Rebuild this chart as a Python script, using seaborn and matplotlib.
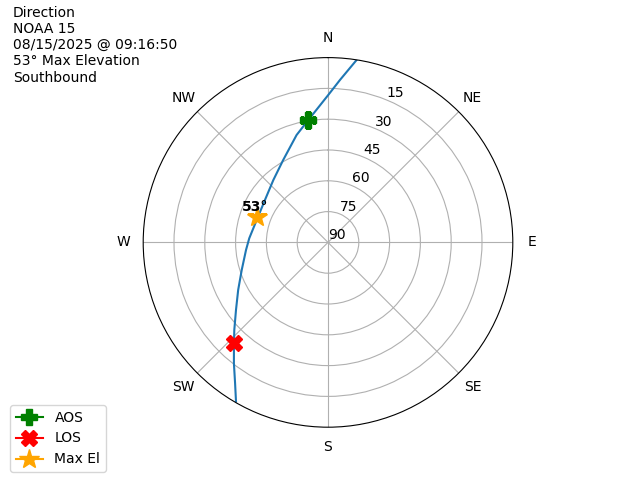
import matplotlib.pyplot as plt
import numpy as np
import seaborn as sns

# pass track (azimuth deg, elevation deg)
track_az = [8.9, 4.2, 0.1, -9.1, -16.3, -28.5, -41.2, -56.1, -72.6, -87.0,
            -95.3, -107.7, -117.9, -126.3, -133.1, -137.5, -142.1, -146.6, -150.0]
track_el = [0.1, 10.7, 18.2, 29.6, 35.5, 44.3, 49.6, 53.0, 53.6, 51.6,
            49.9, 45.9, 40.5, 34.4, 27.5, 22.2, 15.4, 7.8, 0.4]

aos_az, aos_el = 350.9, 29.6
los_az, los_el = 222.9, 22.9
max_az, max_el = 289.8, 53.0

compass = ["N", "NE", "E", "SE", "S", "SW", "W", "NW"]
r_ticks = [0, 15, 30, 45, 60, 75]
r_labels = ["90", "75", "60", "45", "30", "15"]

info = "Direction\nNOAA 15\n08/15/2025 @ 09:16:50\n53° Max Elevation\nSouthbound"


def to_r(el):
    return 90 - np.asarray(el)


fig = plt.figure(figsize=(6.4, 4.8), dpi=100)
ax = fig.add_subplot(111, projection="polar")
ax.set_theta_zero_location("N")
ax.set_theta_direction(-1)

theta = np.unwrap(np.radians(track_az))
sns.lineplot(x=theta, y=to_r(track_el), ax=ax, sort=False, color="tab:blue", lw=1.5)

ax.plot(np.radians(aos_az), to_r(aos_el), marker="P", color="green", markersize=12, label="AOS")
ax.plot(np.radians(los_az), to_r(los_el), marker="X", color="red", markersize=12, label="LOS")
ax.plot(np.radians(max_az), to_r(max_el), marker="*", color="orange", markersize=15, label="Max El")
ax.annotate(f"{max_el:.0f}°", (np.radians(max_az), to_r(max_el)), xytext=(-1, 2),
            textcoords="offset points", ha="center", va="bottom", fontweight="bold", fontsize=10)

ax.set_xticks(np.radians(np.arange(0, 360, 45)))
ax.set_xticklabels(compass)
ax.set_ylim(0, 90)
ax.set_yticks(r_ticks)
ax.set_yticklabels(r_labels)
ax.set_xlabel("")
ax.set_ylabel("")
ax.grid(True)

fig.text(0.02, 0.988, info, ha="left", va="top", fontsize=10)
fig.legend(loc="lower left", bbox_to_anchor=(10 / 640, 8 / 480), borderaxespad=0)

fig.savefig("out.png", dpi=100)
